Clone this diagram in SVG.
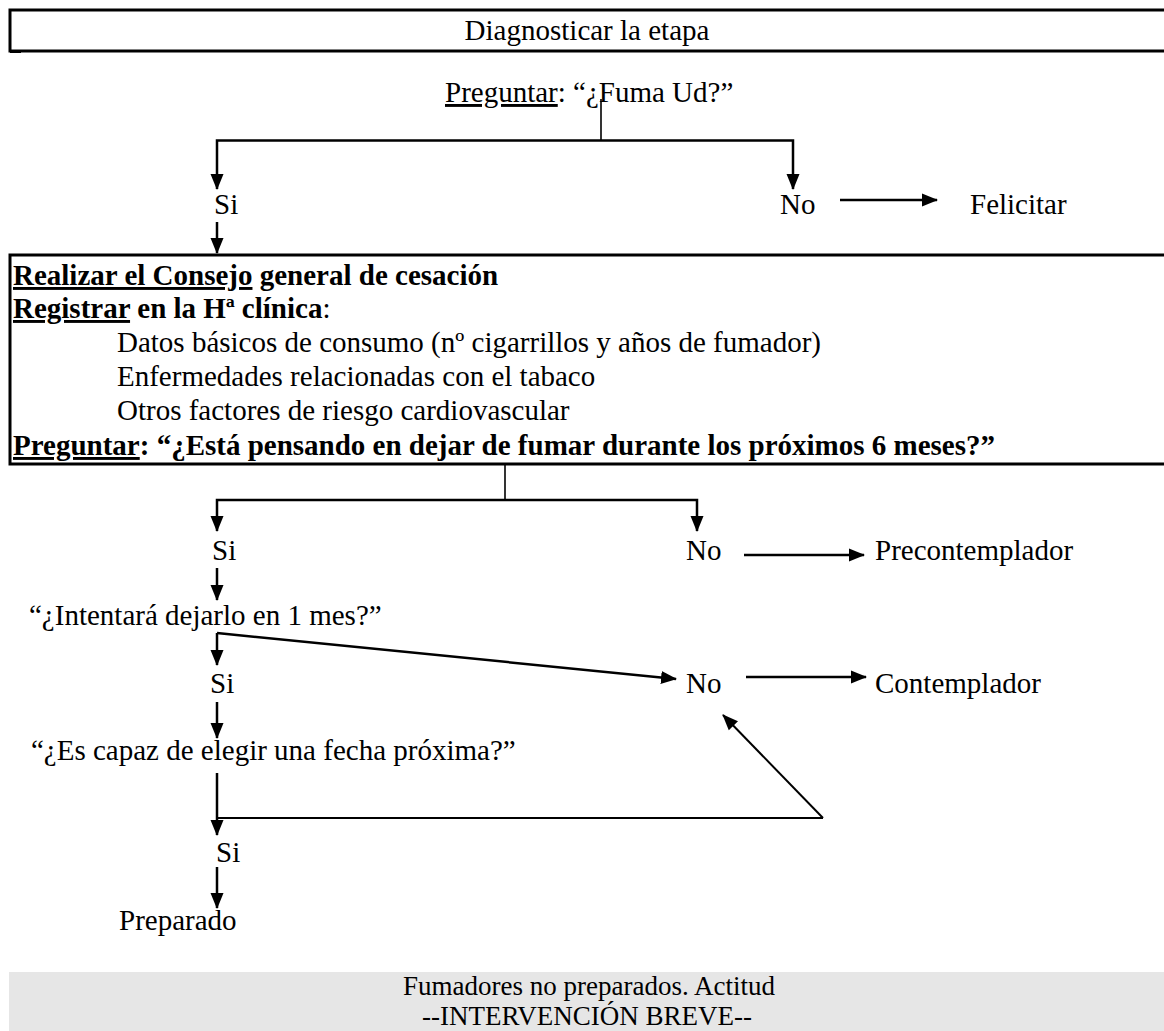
<svg xmlns="http://www.w3.org/2000/svg" width="1164" height="1031" viewBox="0 0 1164 1031">
  <style>
    text { font-family: "Liberation Serif", "Times New Roman", serif; font-size: 29px; fill: #000; }
    .b { font-weight: bold; }
    .u { text-decoration: underline; }
    .mid { text-anchor: middle; }
    .band { font-size: 27px; }
    .frame { stroke: #000; stroke-width: 3; fill: none; }
    .conn { stroke: #000; stroke-width: 2.5; fill: none; }
    .conn2 { stroke: #000; stroke-width: 2; fill: none; }
    .arr { marker-end: url(#ah); }
    .thin { stroke: #000; stroke-width: 1.6; fill: none; }
  </style>
  <defs>
    <marker id="ah" markerUnits="userSpaceOnUse" markerWidth="16" markerHeight="14" refX="15" refY="7" orient="auto">
      <path d="M0,0.5 L16,7 L0,13.5 z" fill="#000"/>
    </marker>
  </defs>

  <!-- heading band -->
  <g id="n-title">
    <rect class="frame" x="10" y="10" width="1170" height="41"/>
    <rect x="10" y="50.5" width="11" height="2.5" fill="#000"/>
    <text class="mid" x="587" y="40">Diagnosticar la etapa</text>
  </g>

  <g id="n-fuma">
    <text x="445" y="102"><tspan class="u">Preguntar</tspan>: “¿Fuma Ud?”</text>
  </g>
  <g id="n-si1"><text x="214" y="214">Si</text></g>
  <g id="n-no1"><text x="780" y="214">No</text></g>
  <g id="n-felicitar"><text x="970" y="214">Felicitar</text></g>

  <!-- advice / record box -->
  <g id="n-consejo">
    <path class="frame" d="M1170,255 H10 V464 H1170"/>
    <text class="b" x="13" y="285"><tspan class="u">Realizar el Consejo</tspan> general de cesación</text>
    <text class="b" x="13" y="318"><tspan class="u">Registrar</tspan> en la Hª clínica<tspan font-weight="normal">:</tspan></text>
    <text x="117" y="352">Datos básicos de consumo (nº cigarrillos y años de fumador)</text>
    <text x="117" y="386">Enfermedades relacionadas con el tabaco</text>
    <text x="117" y="420">Otros factores de riesgo cardiovascular</text>
    <text class="b" x="13" y="455"><tspan class="u">Preguntar</tspan>: “¿Está pensando en dejar de fumar durante los próximos 6 meses?”</text>
  </g>

  <g id="n-si2"><text x="212" y="560">Si</text></g>
  <g id="n-no2"><text x="686" y="560">No</text></g>
  <g id="n-precontemplador"><text x="875" y="560">Precontemplador</text></g>
  <g id="n-intentara"><text x="29" y="625">“¿Intentará dejarlo en 1 mes?”</text></g>
  <g id="n-si3"><text x="210" y="693">Si</text></g>
  <g id="n-no3"><text x="686" y="693">No</text></g>
  <g id="n-contemplador"><text x="875" y="693">Contemplador</text></g>
  <g id="n-fecha"><text x="31" y="760">“¿Es capaz de elegir una fecha próxima?”</text></g>
  <g id="n-si4"><text x="216" y="862">Si</text></g>
  <g id="n-preparado"><text x="119" y="930">Preparado</text></g>

  <!-- closing band -->
  <g id="n-nopreparados">
    <rect x="9" y="972" width="1160" height="70" fill="#e6e6e6"/>
    <text class="mid band" x="589" y="995">Fumadores no preparados. Actitud</text>
    <text class="mid band" x="587" y="1025">--INTERVENCIÓN BREVE--</text>
  </g>

  <g id="connectors">
    <path class="thin" d="M601,99 V141"/>
    <path class="conn arr" d="M601,140.5 H217 V189"/>
    <path class="conn arr" d="M601,140.5 H793 V189"/>
    <path class="conn arr" d="M840,200 H937"/>
    <path class="conn arr" d="M217,222 V253"/>

    <path class="thin" d="M505,464 V500"/>
    <path class="conn arr" d="M505,500 H217 V531"/>
    <path class="conn arr" d="M505,500 H697 V531"/>
    <path class="conn arr" d="M744,555 H864"/>
    <path class="conn arr" d="M217,568 V600"/>

    <path class="conn arr" d="M217,633 V665"/>
    <path class="conn arr" d="M217,633 L676,679"/>
    <path class="conn arr" d="M746,677 H866"/>
    <path class="conn arr" d="M217,702 V738"/>

    <path class="conn arr" d="M217,773 V835"/>
    <path class="conn2" d="M217,818 H823"/>
    <path class="conn2 arr" d="M823,818 L723,715"/>
    <path class="conn arr" d="M217,867 V908"/>
  </g>
</svg>
